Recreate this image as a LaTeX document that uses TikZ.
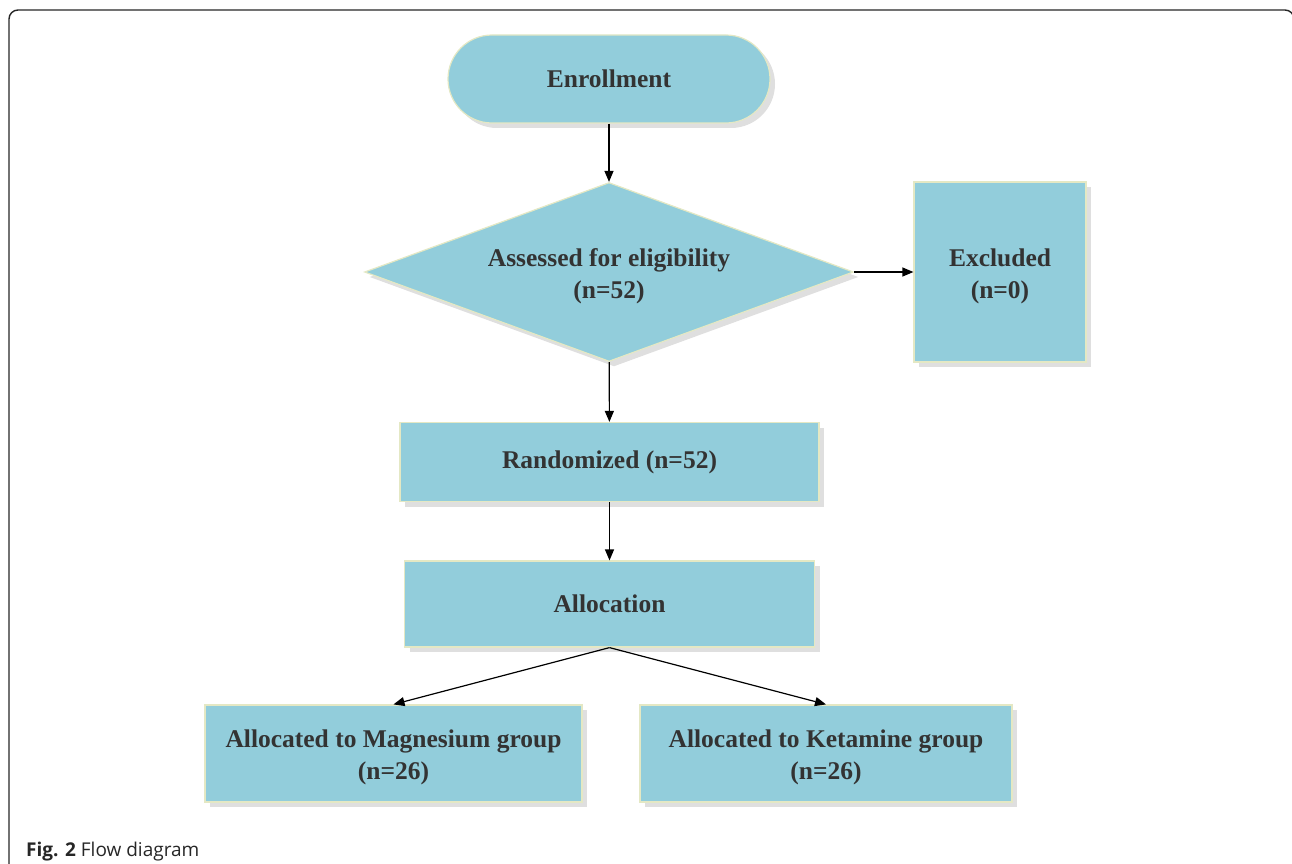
\documentclass[tikz,border=0pt]{standalone}
\usepackage{fontspec}
\setmainfont{Liberation Serif}
\newfontfamily\capfont{Open Sans}
\usetikzlibrary{arrows.meta,shapes.geometric,shadows}
\definecolor{boxfill}{HTML}{92CDDB}
\definecolor{boxline}{HTML}{E4E8C4}
\definecolor{txt}{HTML}{333333}
\newcommand{\dropstrut}{\rule{0pt}{26pt}}
\tikzset{
 box/.style={draw=boxline, line width=1.2pt, fill=boxfill, text=txt,
   font=\fontsize{25.5}{32}\selectfont\bfseries, align=center, inner sep=0pt,
   drop shadow={shadow xshift=5pt, shadow yshift=-5pt, opacity=0.25, fill=gray}},
 conn/.style={line width=1.2pt, draw=black, -{Triangle[length=11pt,width=9pt]}},
 frame/.style={draw=black!85, line width=1.4pt, rounded corners=9pt},
}
\begin{document}
\begin{tikzpicture}[x=1pt,y=-1pt]
\useasboundingbox (0,0) rectangle (1292,864);
\coordinate (f1) at (9,880);
\coordinate (f2) at (9,10);
\coordinate (f3) at (1294,10);
\coordinate (f4) at (1294,40);
\draw[frame] (f1) -- (f2) -- (f3) -- (f4);

\node[box, rounded corners=44pt, minimum width=322pt, minimum height=88pt] (enr) at (609,79) {Enrollment};
\node[box, diamond, aspect=2.73, minimum width=489pt, minimum height=179pt] (ass) at (609,272) {\dropstrut Assessed for eligibility\\(n=52)};
\node[box, minimum width=172pt, minimum height=180pt] (exc) at (1000,272) {\dropstrut Excluded\\(n=0)};
\node[box, minimum width=419pt, minimum height=79pt] (ran) at (609.5,462) {Randomized (n=52)};
\node[box, minimum width=410pt, minimum height=86pt] (all) at (609.5,604) {Allocation};
\node[box, minimum width=377pt, minimum height=97pt] (mag) at (393.5,753.5) {\dropstrut Allocated to Magnesium group\\(n=26)};
\node[box, minimum width=372pt, minimum height=97pt] (ket) at (826,753.5) {\dropstrut Allocated to Ketamine group\\(n=26)};

\draw[conn] (enr) -- (ass);
\draw[conn] (ass) -- (exc);
\draw[conn] (ass) -- (ran);
\draw[conn] (ran) -- (all);
\draw[conn] (all.south) -- (mag.north);
\draw[conn] (all.south) -- (ket.north);

\node[anchor=base west, inner sep=0pt, text=black!85, font=\capfont\fontsize{19}{21}\selectfont] (cap) at (26,856) {\textbf{Fig. 2} Flow diagram};
\end{tikzpicture}
\end{document}
